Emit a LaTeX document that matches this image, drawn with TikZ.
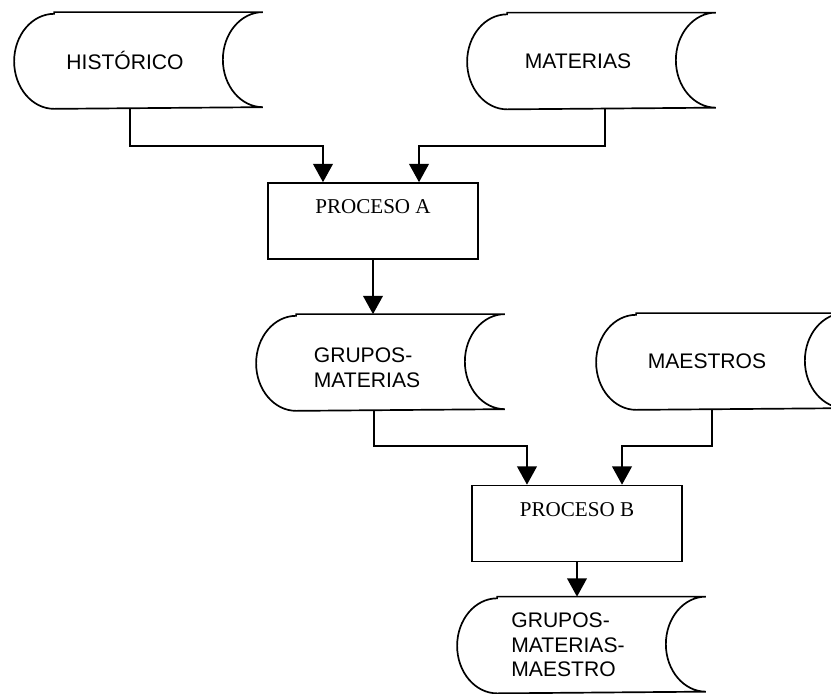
\documentclass[tikz,border=0pt]{standalone}
\usepackage{fontspec}
\setmainfont{Liberation Serif}
\setsansfont{Liberation Sans}
\usetikzlibrary{arrows.meta}

\begin{document}
\begin{tikzpicture}[x=0.025cm, y=0.025cm, line width=1.2pt,
    store/.style={minimum width=5.5cm, minimum height=2.375cm, inner sep=0pt,
        align=center, font=\sffamily\fontsize{15}{17.5}\selectfont},
    procbox/.style={draw, minimum width=5.25cm, inner sep=0pt, text height=22pt,
        text depth=32pt, font=\fontsize{15}{17.5}\selectfont},
    flow/.style={-{Triangle[width=14pt,length=13pt]}}]

    \useasboundingbox (0,0) rectangle (831,-694);

    \node [store] (hist) at (125,-60.5) {HISTÓRICO};
    \node [store] (mat) at (578,-61) {MATERIAS};
    \node [procbox] (pa) at (373,-221) {PROCESO A};
    \node [store, align=left] (grm) at (367,-362.5) {\mbox{}\\GRUPOS-\\MATERIAS};
    \node [store] (mae) at (707,-361.5) {MAESTROS};
    \node [procbox] (pb) at (577,-523.5) {PROCESO B};
    \node [store, align=left] (gmm) at (568,-645) {GRUPOS-\\MATERIAS-\\MAESTRO};

    \foreach \n in {hist,mat,grm,mae,gmm}
        \draw ([xshift=1cm]\n.north west) -- ([xshift=0.675cm]\n.north east)
            arc[start angle=90, end angle=270, x radius=1cm, y radius=1.1875cm]
            -- ([xshift=1cm]\n.south west)
            arc[start angle=270, end angle=90, x radius=1cm, y radius=1.1875cm] -- cycle;

    \draw [flow] ([xshift=0.125cm]hist.south) |- ([xshift=-1.25cm,yshift=0.9cm]pa.north)
        -- ([xshift=-1.25cm]pa.north);
    \draw [flow] ([xshift=0.675cm]mat.south) |- ([xshift=1.15cm,yshift=0.9cm]pa.north)
        -- ([xshift=1.15cm]pa.north);
    \draw [flow] (pa.south) -- (pa.south |- grm.north);
    \draw [flow] ([xshift=0.175cm]grm.south) |- ([xshift=-1.25cm,yshift=0.975cm]pb.north)
        -- ([xshift=-1.25cm]pb.north);
    \draw [flow] ([xshift=0.125cm]mae.south) |- ([xshift=1.125cm,yshift=0.975cm]pb.north)
        -- ([xshift=1.125cm]pb.north);
    \draw [flow] (pb.south) -- (pb.south |- gmm.north);
\end{tikzpicture}
\end{document}
